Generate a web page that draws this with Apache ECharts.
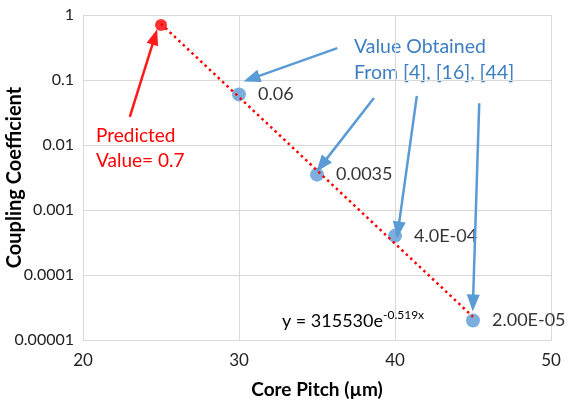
<!DOCTYPE html>
<html><head><meta charset="utf-8">
<script src="https://cdn.jsdelivr.net/npm/echarts@6/dist/echarts.min.js"></script>
<style>html,body{margin:0;padding:0;background:#fff}#c{width:568px;height:402px}</style>
</head><body><div id="c"></div>
<script>
// Data
var measuredX = [30, 35, 40, 45];
var measuredY = [0.06, 0.0035, 0.0004, 0.00002];
var measuredLabels = ['0.06', '0.0035', '4.0E-04', '2.00E-05'];
var predictedX = [25];
var predictedY = [0.7];
var trendX = [25, 45];
var trendY = [0.73, 0.0000227];
var xTicks = [20, 30, 40, 50];
var yTickLabels = ['0.00001', '0.0001', '0.001', '0.01', '0.1', '1'];
// annotation arrows in data coords [tailX, tailY, headX, headY]
var redArrow = [23.0, 0.027, 24.6, 0.46];
var blueArrows = [
  [36.3, 0.31, 30.8, 0.105],
  [38.65, 0.053, 35.3, 0.0049],
  [41.4, 0.057, 40.2, 0.00049],
  [45.4, 0.044, 45.0, 0.000037]
];

var font = 'Lato, "Open Sans", sans-serif';
var chart = echarts.init(document.getElementById('c'));

function arrowData(a) {
  return [{coord: [a[0], a[1]], symbol: 'none'}, {coord: [a[2], a[3]], symbol: 'triangle'}];
}

chart.setOption({
  animation: false,
  grid: {left: 83, right: 17, top: 15, bottom: 62, containLabel: false, outerBoundsMode: 'none'},
  xAxis: {
    type: 'value', min: xTicks[0], max: xTicks[xTicks.length - 1], interval: 10,
    name: 'Core Pitch (µm)', nameLocation: 'middle', nameGap: 40, nameMoveOverlap: false,
    nameTextStyle: {fontFamily: font, fontWeight: 'bold', fontSize: 19, color: '#000'},
    axisLine: {lineStyle: {color: '#d9d9d9'}},
    axisTick: {show: false},
    axisLabel: {fontFamily: font, fontSize: 17, color: '#222', margin: 12},
    splitLine: {lineStyle: {color: '#d9d9d9', width: 1}}
  },
  yAxis: {
    type: 'log', logBase: 10, min: 0.00001, max: 1,
    name: 'Coupling Coefficient', nameLocation: 'middle', nameGap: 58, nameMoveOverlap: false,
    nameTextStyle: {fontFamily: font, fontWeight: 'bold', fontSize: 20, color: '#000'},
    axisLine: {show: true, lineStyle: {color: '#d9d9d9'}},
    axisTick: {show: false},
    axisLabel: {fontFamily: font, fontSize: 16, color: '#222', margin: 9,
      formatter: function (v) {
        var i = Math.round(Math.log10(v)) + 5;
        return yTickLabels[i] !== undefined ? yTickLabels[i] : '';
      }},
    splitLine: {lineStyle: {color: '#d9d9d9', width: 1}}
  },
  series: [
    {
      type: 'line', data: trendX.map(function (x, i) { return [x, trendY[i]]; }),
      symbol: 'none', lineStyle: {color: '#ff0000', width: 2.5, type: [2.5, 3.5]},
      z: 3,
      markLine: {
        silent: true, symbolSize: [12, 16],
        label: {show: false},
        lineStyle: {color: '#ff1a1a', width: 2.5, type: 'solid'},
        data: [arrowData(redArrow)]
      },
      markPoint: {
        symbol: 'circle', symbolSize: 0, silent: true,
        data: [{coord: [32.75, 0.0000196], value: 0}],
        label: {
          show: true, position: 'right', distance: 0,
          formatter: '{a|y = 315530e}{b|-0.519x}',
          rich: {
            a: {fontFamily: font, fontSize: 18, color: '#000'},
            b: {fontFamily: font, fontSize: 12, color: '#000', verticalAlign: 'top', padding: [0, 0, 12, 0]}
          }
        }
      }
    },
    {
      type: 'scatter', data: measuredX.map(function (x, i) { return [x, measuredY[i]]; }),
      symbolSize: 14, itemStyle: {color: '#5b9bd5'}, z: 2,
      label: {
        show: true, position: 'right', distance: 12,
        fontFamily: font, fontSize: 18, color: '#000',
        formatter: function (p) { return measuredLabels[p.dataIndex]; }
      },
      markLine: {
        silent: true, symbolSize: [13, 17],
        label: {show: false},
        lineStyle: {color: '#5b9bd5', width: 2.5, type: 'solid'},
        data: blueArrows.map(arrowData)
      }
    },
    {
      type: 'scatter', data: predictedX.map(function (x, i) { return [x, predictedY[i]]; }),
      symbolSize: 12, itemStyle: {color: '#ff0000'}, z: 4
    }
  ],
  graphic: [
    {type: 'text', left: 354, top: 37, style: {text: 'Value Obtained', font: '19.5px ' + font, fill: '#3e7fc1'}},
    {type: 'text', left: 354, top: 63, style: {text: 'From [4], [16], [44]', font: '19.5px ' + font, fill: '#3e7fc1'}},
    {type: 'text', left: 96, top: 126, style: {text: 'Predicted', font: '19px ' + font, fill: '#ff0000'}},
    {type: 'text', left: 96, top: 151, style: {text: 'Value= 0.7', font: '19px ' + font, fill: '#ff0000'}}
  ]
});
</script></body></html>
